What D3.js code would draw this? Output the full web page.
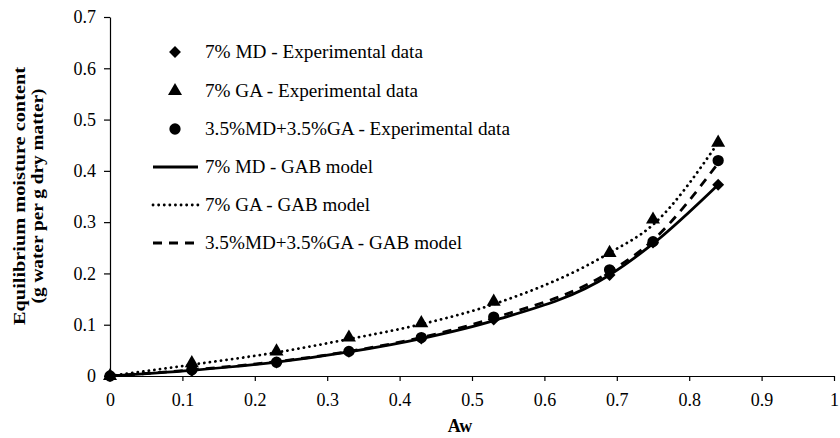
<!DOCTYPE html>
<html><head><meta charset="utf-8">
<script src="https://cdn.jsdelivr.net/npm/d3@7"></script>
<style>body{margin:0;background:#fff}svg{display:block}text{font-family:"Liberation Serif","Times New Roman",serif}</style>
</head><body><svg id="c" width="840" height="438"></svg>
<script>
const aw = [0, 0.113, 0.23, 0.33, 0.43, 0.53, 0.69, 0.75, 0.84];
const mdExp = [0, 0.010, 0.026, 0.047, 0.073, 0.110, 0.197, 0.260, 0.373];
const gaExp = [0, 0.025, 0.048, 0.075, 0.103, 0.145, 0.240, 0.305, 0.455];
const mixExp = [0, 0.012, 0.027, 0.048, 0.075, 0.115, 0.207, 0.262, 0.420];
const mdGab = [0, 0.011, 0.027, 0.047, 0.073, 0.108, 0.197, 0.258, 0.373];
const gaGab = [0, 0.022, 0.046, 0.072, 0.101, 0.140, 0.240, 0.295, 0.455];
const mixGab = [0, 0.012, 0.028, 0.048, 0.075, 0.113, 0.203, 0.265, 0.415];
const xTicks = [0,0.1,0.2,0.3,0.4,0.5,0.6,0.7,0.8,0.9,1];
const yTicks = [0,0.1,0.2,0.3,0.4,0.5,0.6,0.7];
const legendLabels = ["7% MD - Experimental data","7% GA - Experimental data","3.5%MD+3.5%GA - Experimental data","7% MD - GAB model","7% GA - GAB model","3.5%MD+3.5%GA - GAB model"];

const svg = d3.select("#c");
const x = d3.scaleLinear().domain([0,1]).range([110,834]);
const y = d3.scaleLinear().domain([0,0.7]).range([376,17]);

const xa = svg.append("g").attr("transform","translate(0,376)")
  .call(d3.axisBottom(x).tickValues(xTicks).tickFormat(d=>d3.format("~g")(d)).tickSize(5).tickSizeOuter(0));
const ya = svg.append("g").attr("transform","translate(110,0)")
  .call(d3.axisLeft(y).tickValues(yTicks).tickFormat(d=>d3.format("~g")(d)).tickSize(6).tickSizeOuter(0));
[xa,ya].forEach(a=>{
  a.selectAll("path,line").attr("stroke","#000").attr("stroke-width",1.2);
  a.selectAll("text").attr("font-size",18).attr("fill","#000").attr("font-family","Liberation Serif");
});
xa.selectAll("text").attr("y",17).attr("dy","0.71em");
ya.selectAll("text").attr("x",-14);

const line = d3.line().x((d,i)=>x(aw[i])).y(d=>y(d)).curve(d3.curveMonotoneX);
const styles = [
  {data: mdGab, dash: null, cap:"butt"},
  {data: gaGab, dash: "0.1 5.5", cap:"round"},
  {data: mixGab, dash: "9 7", cap:"butt"}
];
styles.forEach(s=>{
  svg.append("path").attr("d",line(s.data)).attr("fill","none").attr("stroke","#000")
    .attr("stroke-width",2.8).attr("stroke-dasharray",s.dash).attr("stroke-linecap",s.cap);
});

const sym = [d3.symbol().type(d3.symbolDiamond2).size(90), d3.symbol().type(d3.symbolTriangle).size(85), d3.symbol().type(d3.symbolCircle).size(100)];
const exps = [mdExp, gaExp, mixExp];
exps.forEach((arr,k)=>{
  svg.append("g").selectAll("path").data(arr).join("path")
    .attr("d",sym[k]).attr("transform",(d,i)=>`translate(${x(aw[i])},${y(d)})`).attr("fill","#000");
});

// legend
const ly = [52, 91, 129, 167, 205, 243];
const lw = [218, 213, 305, 168, 165, 257];
const lg = svg.append("g");
legendLabels.forEach((t,i)=>{
  const yy = ly[i];
  if(i<3){
    lg.append("path").attr("d",sym[i]).attr("transform",`translate(175,${yy})`).attr("fill","#000");
  } else {
    const s = styles[i-3];
    lg.append("line").attr("x1",153).attr("x2",198).attr("y1",yy).attr("y2",yy)
      .attr("stroke","#000").attr("stroke-width",2.8).attr("stroke-dasharray",s.dash).attr("stroke-linecap",s.cap);
  }
  lg.append("text").attr("x",205).attr("y",yy).attr("dy","0.35em").attr("font-size",18).attr("fill","#000")
    .attr("textLength",lw[i]).attr("lengthAdjust","spacingAndGlyphs").text(t);
});

// axis titles
svg.append("text").attr("x",460).attr("y",432).attr("text-anchor","middle").attr("font-weight","bold").attr("font-size",18).text("Aw");
const yt = svg.append("text").attr("transform","translate(0,196) rotate(-90)").attr("text-anchor","middle").attr("font-weight","bold").attr("font-size",17);
yt.append("tspan").attr("x",0).attr("y",25).attr("textLength",258).attr("lengthAdjust","spacingAndGlyphs").text("Equilibrium moisture content");
yt.append("tspan").attr("x",0).attr("y",43).attr("textLength",215).attr("lengthAdjust","spacingAndGlyphs").text("(g water per g dry matter)");
</script></body></html>
